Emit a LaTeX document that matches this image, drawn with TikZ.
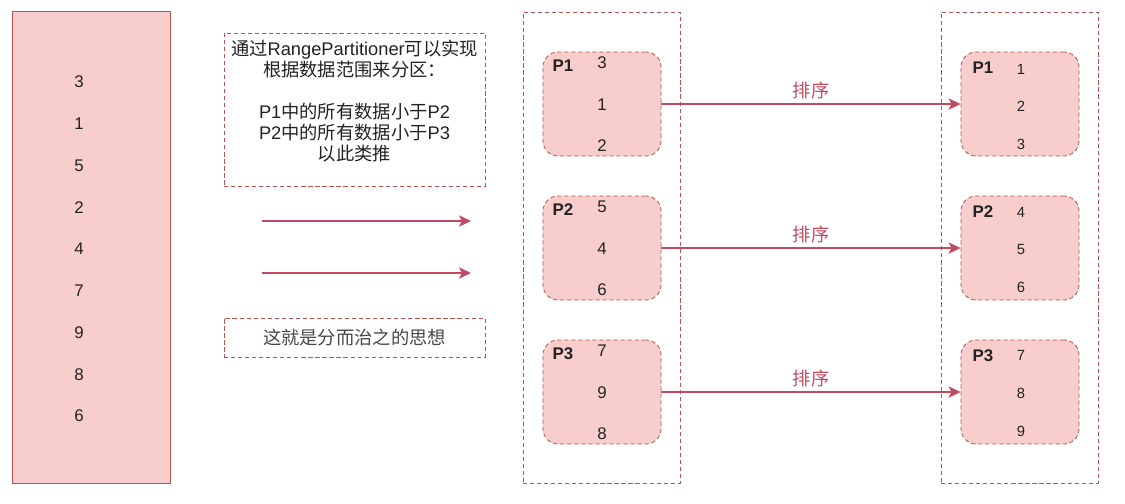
\documentclass[tikz,border=0pt]{standalone}
\usepackage{fontspec}
\setmainfont{Liberation Sans}
\newfontfamily\cjk{Noto Sans CJK SC}
\usetikzlibrary{arrows.meta}

\definecolor{pfill}{HTML}{F8CECC}
\definecolor{pline}{HTML}{B85450}
\definecolor{arrred}{HTML}{C24A60}
\definecolor{txt}{HTML}{222222}

\begin{document}
\begin{tikzpicture}[x=0.025cm, y=-0.025cm, font=\fontsize{12}{15}\selectfont, text=txt,
  datacol/.style={draw=pline, fill=pfill, line width=0.7pt, minimum width=3.925cm, minimum height=11.775cm, inner sep=0pt},
  notebox/.style={draw=pline, dashed, dash pattern=on 3pt off 2pt, line width=0.6pt, minimum width=6.525cm, inner sep=0pt, font=\fontsize{13}{15.2}\selectfont},
  holder/.style={draw=pline, dashed, dash pattern=on 3pt off 2pt, line width=0.6pt, minimum width=3.925cm, minimum height=11.775cm, inner sep=0pt},
  part/.style={draw=pline, fill=pfill, dashed, dash pattern=on 3pt off 2pt, line width=0.6pt, rounded corners=0.38cm, minimum width=2.95cm, minimum height=2.6cm, inner sep=0pt},
  flow/.style={draw=arrred, line width=0.9pt, -{Stealth[length=8.5pt, width=8pt, inset=2pt]}}]

  \useasboundingbox (0, 0) rectangle (1125, 504);

  % 元データ
  \node[datacol] (src) at (91.5, 247.5) {};
  \foreach \v [count=\i] in {3, 1, 5, 2, 4, 7, 9, 8, 6}
    \node (s\i) at (79, {82 + (\i - 1) * 41.75}) {\v};

  % 説明
  \node[notebox, minimum height=3.825cm] (note) at (354.5, 109.5) {};
  \node[font=\fontsize{13}{15}\selectfont, align=center] (notetext) at (354.5, 101)
    {{\cjk 通过}RangePartitioner{\cjk 可以实现}\\
     {\cjk 根据数据范围来分区：}\\[15pt]
     P1{\cjk 中的所有数据小于}P2\\
     P2{\cjk 中的所有数据小于}P3\\
     {\cjk 以此类推}};
  \node[notebox, minimum height=0.975cm, text=black!72] (idea) at (354.5, 337.5) {\cjk 这就是分而治之的思想};

  % 矢印
  \coordinate (a1s) at (262, 221);
  \coordinate (a1e) at (471, 221);
  \coordinate (a2s) at (262, 273);
  \coordinate (a2e) at (471, 273);
  \draw[flow] (a1s) -- (a1e);
  \draw[flow] (a2s) -- (a2e);

  % パーティション
  \node[holder] (mid) at (601.5, 247.5) {};
  \node[holder] (res) at (1019.5, 247.5) {};

  \foreach \k/\y in {1/104, 2/248, 3/392} {
    \node[part] (m\k) at (602, \y) {};
    \node[part] (r\k) at (1020, \y) {};
    \node[font=\fontsize{12}{15}\selectfont\bfseries] (mp\k) at (563, \y - 38) {P\k};
    \node[font=\fontsize{12}{15}\selectfont\bfseries] (rp\k) at (983, \y - 36) {P\k};
    \draw[flow] (m\k.east) -- node[above, text=arrred, inner sep=3pt, font=\fontsize{13}{15}\selectfont] {\cjk 排序} (r\k.west);
  }

  % 中身
  \foreach \v [count=\i] in {3, 1, 2}   \node (mv1\i) at (602, {63 + (\i - 1) * 41.5}) {\v};
  \foreach \v [count=\i] in {5, 4, 6}   \node (mv2\i) at (602, {207 + (\i - 1) * 41.5}) {\v};
  \foreach \v [count=\i] in {7, 9, 8}   \node (mv3\i) at (602, {351 + (\i - 1) * 41.5}) {\v};
  \foreach \v [count=\i] in {1, 2, 3}   \node[font=\fontsize{10.5}{13}\selectfont] (rv1\i) at (1021, {69 + (\i - 1) * 37.5}) {\v};
  \foreach \v [count=\i] in {4, 5, 6}   \node[font=\fontsize{10.5}{13}\selectfont] (rv2\i) at (1021, {212 + (\i - 1) * 37.5}) {\v};
  \foreach \v [count=\i] in {7, 8, 9}   \node[font=\fontsize{10.5}{13}\selectfont] (rv3\i) at (1021, {355 + (\i - 1) * 38}) {\v};

\end{tikzpicture}
\end{document}
